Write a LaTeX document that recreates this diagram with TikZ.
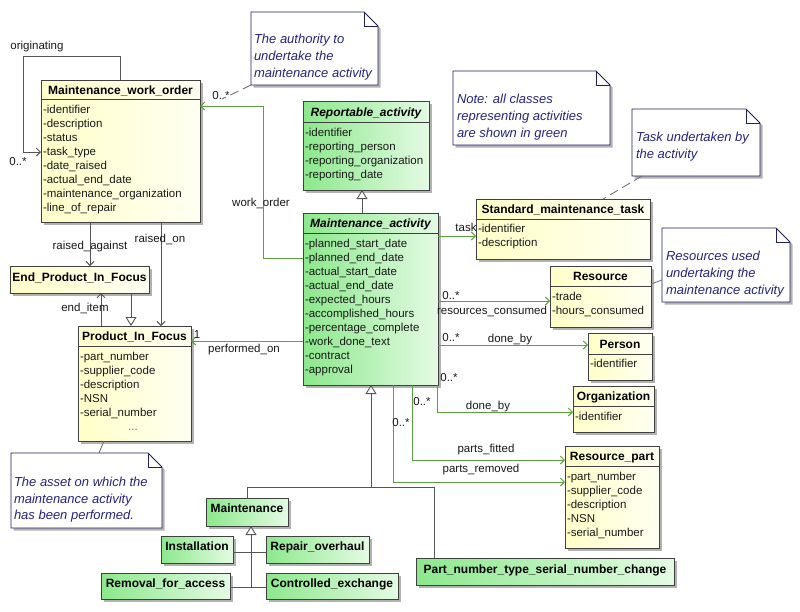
\documentclass[tikz,border=0pt]{standalone}
\usepackage{fontspec}
\setmainfont{Liberation Sans}
\usetikzlibrary{arrows.meta,shadows,calc}
\definecolor{gline}{RGB}{92,160,64}
\definecolor{bline}{RGB}{85,85,85}
\definecolor{bord}{RGB}{64,64,64}
\definecolor{ylA}{RGB}{255,255,200}
\definecolor{ylB}{RGB}{255,255,242}
\definecolor{grA}{RGB}{140,232,140}
\definecolor{grB}{RGB}{228,251,228}
\definecolor{navy}{RGB}{36,36,130}
\definecolor{nbord}{RGB}{30,30,100}
\tikzset{
 every node/.style={font=\fontsize{11.5}{14}\selectfont, inner sep=0pt, outer sep=0pt},
 cls/.style={draw=bord, line width=0.8pt, anchor=north west,
   drop shadow={shadow xshift=2.5pt, shadow yshift=-2.5pt, fill=black, opacity=0.3}},
 ycls/.style={cls, left color=ylA, right color=ylB},
 gcls/.style={cls, left color=grA, right color=grB},
 ttl/.style={font=\fontsize{12}{14}\selectfont\bfseries, anchor=base},
 ttli/.style={font=\fontsize{12}{14}\selectfont\bfseries\itshape, anchor=base},
 attrs/.style={anchor=north west, align=left, text=black!90},
 lbl/.style={anchor=base, text=black!90},
 divl/.style={draw=bord, line width=0.8pt},
 gassoc/.style={draw=gline, line width=0.9pt, -{Straight Barb[length=4pt,width=8pt]}},
 bassoc/.style={draw=bline, line width=0.9pt, -{Straight Barb[length=4pt,width=8pt]}},
 genl/.style={draw=bline, line width=0.9pt},
 gen/.style={genl, -{Triangle[open,length=9pt,width=11pt,fill=white]}},
 ntext/.style={anchor=north west, align=left, text=navy, font=\fontsize{13}{17}\selectfont\itshape},
 nbox/.style={anchor=north west, draw=none},
 nborder/.style={draw=nbord, line width=0.9pt, fill=white,
   drop shadow={shadow xshift=2.5pt, shadow yshift=-2.5pt, fill=black, opacity=0.3}},
 nline/.style={draw=black!55, line width=0.9pt},
}
\newcommand\drawnote[1]{%
 \draw[nborder] (#1.north west) -- ($(#1.north east)+(-14,0)$) -- ($(#1.north east)+(0,14)$) -- (#1.south east) -- (#1.south west) -- cycle;
 \draw[draw=nbord, line width=0.9pt] ($(#1.north east)+(-14,0)$) |- ($(#1.north east)+(0,14)$);}
\begin{document}
\begin{tikzpicture}[x=1pt,y=-1pt]
\fill[white] (0,0) rectangle (800,611);
\useasboundingbox (0,0) rectangle (800,611);

% ---------- notes ----------
\node[nbox, minimum width=127, minimum height=73] (n1b) at (251,12) {};
\node[nbox, minimum width=157, minimum height=74] (n2b) at (453,71) {};
\node[nbox, minimum width=128, minimum height=67] (n3b) at (632,109) {};
\node[nbox, minimum width=128, minimum height=74] (n4b) at (662,228) {};
\node[nbox, minimum width=151, minimum height=75] (n5b) at (11,453) {};
\drawnote{n1b}\drawnote{n2b}\drawnote{n3b}\drawnote{n4b}\drawnote{n5b}
\node[ntext] (n1) at (254,31.6) {\strut The authority to\\undertake the\\maintenance activity};
\node[ntext] (n2) at (457,91.6) {\strut Note: all classes\\representing activities\\are shown in green};
\node[ntext] (n3) at (636,129.6) {\strut Task undertaken by\\the activity};
\node[ntext] (n4) at (666,248.6) {\strut Resources used\\undertaking the\\maintenance activity};
\node[ntext, font=\fontsize{13}{16.5}\selectfont\itshape] (n5) at (14,475) {\strut The asset on which the\\maintenance activity\\has been performed.};

% ---------- classes ----------
\node[ycls, minimum width=159, minimum height=142] (mwo) at (41,80) {};
\draw[divl] (mwo.west |- 0,99) -- (mwo.east |- 0,99);
\node[ttl] (mwot) at (120.5,94) {Maintenance\_work\_order};
\node[attrs] (mwoa) at (43,103.5) {\strut -identifier\\-description\\-status\\-task\_type\\-date\_raised\\-actual\_end\_date\\-maintenance\_organization\\-line\_of\_repair};

\node[ycls, minimum width=139, minimum height=27] (epif) at (10,266) {};
\node[ttl] (epift) at (79.5,281.5) {End\_Product\_In\_Focus};

\node[ycls, minimum width=113, minimum height=115] (pif) at (78,326) {};
\draw[divl] (pif.west |- 0,346) -- (pif.east |- 0,346);
\node[ttl] (pift) at (134.5,340.5) {Product\_In\_Focus};
\node[attrs] (pifa) at (80,350.5) {\strut -part\_number\\-supplier\_code\\-description\\-NSN\\-serial\_number};
\node[lbl, text=black!60] (pifd) at (133,430) {...};

\node[gcls, minimum width=126, minimum height=89] (ra) at (303,101) {};
\draw[divl] (ra.west |- 0,122) -- (ra.east |- 0,122);
\node[ttli] (rat) at (366,116) {Reportable\_activity};
\node[attrs] (raa) at (305,126.5) {\strut -identifier\\-reporting\_person\\-reporting\_organization\\-reporting\_date};

\node[gcls, minimum width=135, minimum height=172] (ma) at (303,213) {};
\draw[divl] (ma.west |- 0,233) -- (ma.east |- 0,233);
\node[ttli] (mat) at (370.5,227.5) {Maintenance\_activity};
\node[attrs] (maa) at (305,237.5) {\strut -planned\_start\_date\\-planned\_end\_date\\-actual\_start\_date\\-actual\_end\_date\\-expected\_hours\\-accomplished\_hours\\-percentage\_complete\\-work\_done\_text\\-contract\\-approval};

\node[ycls, minimum width=174, minimum height=60] (smt) at (476,199) {};
\draw[divl] (smt.west |- 0,219) -- (smt.east |- 0,219);
\node[ttl] (smtt) at (563,213.5) {Standard\_maintenance\_task};
\node[attrs] (smta) at (478,222.5) {\strut -identifier\\-description};

\node[ycls, minimum width=101, minimum height=61] (res) at (550,266) {};
\draw[divl] (res.west |- 0,286) -- (res.east |- 0,286);
\node[ttl] (rest) at (600.5,280.5) {Resource};
\node[attrs] (resa) at (552,290.5) {\strut -trade\\-hours\_consumed};

\node[ycls, minimum width=64, minimum height=47] (per) at (588,333) {};
\draw[divl] (per.west |- 0,354) -- (per.east |- 0,354);
\node[ttl] (pert) at (620,348) {Person};
\node[attrs] (pera) at (590,358) {\strut -identifier};

\node[ycls, minimum width=81, minimum height=46] (org) at (573,386) {};
\draw[divl] (org.west |- 0,406) -- (org.east |- 0,406);
\node[ttl] (orgt) at (613.5,400.5) {Organization};
\node[attrs] (orga) at (575,410.5) {\strut -identifier};

\node[ycls, minimum width=94, minimum height=102] (rp) at (565,446) {};
\draw[divl] (rp.west |- 0,466) -- (rp.east |- 0,466);
\node[ttl] (rpt) at (612,460.5) {Resource\_part};
\node[attrs] (rpa) at (567,470.5) {\strut -part\_number\\-supplier\_code\\-description\\-NSN\\-serial\_number};

\node[gcls, minimum width=82, minimum height=28] (maint) at (206,498) {};
\node[ttl] (maintt) at (247,512.5) {Maintenance};
\node[gcls, minimum width=72, minimum height=27] (inst) at (161,536) {};
\node[ttl] (instt) at (197,550.5) {Installation};
\node[gcls, minimum width=103, minimum height=27] (rep) at (266,536) {};
\node[ttl] (rept) at (317.5,550.5) {Repair\_overhaul};
\node[gcls, minimum width=129, minimum height=26] (rem) at (101,573) {};
\node[ttl] (remt) at (165.5,587.5) {Removal\_for\_access};
\node[gcls, minimum width=132, minimum height=26] (ce) at (266,573) {};
\node[ttl] (cet) at (332,587.5) {Controlled\_exchange};
\node[gcls, minimum width=258, minimum height=27] (pn) at (416,558) {};
\node[ttl] (pnt) at (545,573.5) {Part\_number\_type\_serial\_number\_change};

% ---------- connectors ----------
\coordinate (c1) at (23,56);
\draw[bassoc] (mwo.north -| 120,0) |- (c1) |- (mwo.west |- 0,152);
\node[lbl] (l1) at (37,49) {originating};
\node[lbl] (l2) at (18,165) {0..*};

\draw[gassoc] (ma.west |- 0,258) -| (263,106) -- (mwo.east |- 0,106);
\node[lbl] (l3) at (261,206) {work\_order};
\node[lbl] (l4) at (221,99) {0..*};
\coordinate (n1e) at (222,99);
\draw[nline, dash pattern=on 9pt off 5pt] (n1b.south west) -- (n1e);

\draw[gassoc] (ma.west |- 0,341) -- (pif.east |- 0,341);
\node[lbl] (l5) at (197,338) {1};
\node[lbl] (l6) at (244,352) {performed\_on};

\draw[gen] (ma.north -| 362,0) -- (ra.south -| 362,0);

\draw[gassoc] (ma.east |- 0,236) -- (smt.west |- 0,236);
\node[lbl] (l7) at (466,231) {task};

\draw[gassoc] (ma.east |- 0,301) -- (res.west |- 0,301);
\node[lbl] (l8) at (451,299) {0..*};
\node[lbl] (l9) at (492,314) {resources\_consumed};

\draw[gassoc] (ma.east |- 0,345) -- (per.west |- 0,345);
\node[lbl] (l10) at (451,341) {0..*};
\node[lbl] (l11) at (510,342) {done\_by};

\draw[gassoc] (ma.south -| 437,0) |- (org.west |- 0,412);
\node[lbl] (l12) at (449,381) {0..*};
\node[lbl] (l13) at (488,409) {done\_by};

\draw[gassoc] (ma.south -| 412,0) |- (rp.west |- 0,460);
\node[lbl] (l14) at (422,405) {0..*};
\node[lbl] (l15) at (486,452) {parts\_fitted};

\draw[gassoc] (ma.south -| 393,0) |- (rp.west |- 0,482);
\node[lbl] (l16) at (401,426) {0..*};
\node[lbl] (l17) at (481,472) {parts\_removed};

\coordinate (j1) at (371,487);
\draw[genl] (maint.north -| 247,0) |- (j1);
\draw[genl] (pn.north -| 434,0) |- (j1);
\draw[gen] (j1) -- (ma.south -| 371,0);

\coordinate (j2) at (251,587);
\draw[genl] (inst.east |- 0,552) -- (rep.west |- 0,552);
\draw[genl] (rem.east |- 0,587) -- (ce.west |- 0,587);
\draw[gen] (j2) -- (maint.south -| 251,0);

\draw[bassoc] (mwo.south -| 90,0) -- (epif.north -| 90,0);
\node[lbl] (l18) at (90,249) {raised\_against};
\draw[bassoc] (mwo.south -| 161,0) -- (pif.north -| 161,0);
\node[lbl] (l19) at (160,242) {raised\_on};
\draw[bassoc] (pif.north -| 101,0) -- (epif.south -| 101,0);
\node[lbl] (l20) at (85,311) {end\_item};
\draw[gen] (epif.south -| 131,0) -- (pif.north -| 131,0);

\draw[nline, dash pattern=on 9pt off 5pt] (n3b.south -| 642,0) -- (smt.north -| 603,0);
\draw[nline] (res.east |- 0,284) -- (n4b.west |- 0,280);
\draw[nline] (n5b.north -| 99,0) -- (pif.south -| 104,0);
\end{tikzpicture}
\end{document}
